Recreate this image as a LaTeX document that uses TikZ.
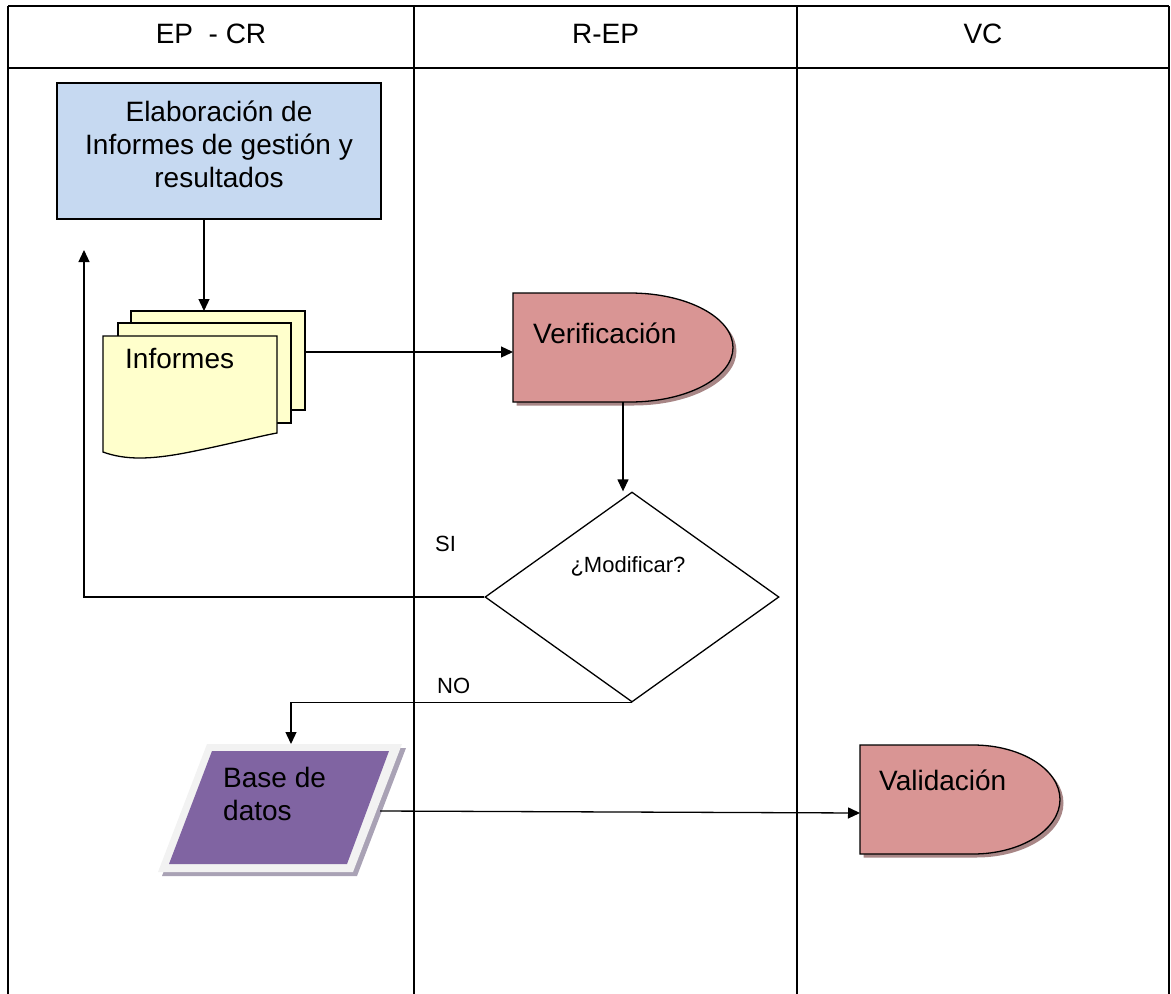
\documentclass[tikz,border=0pt]{standalone}
\usepackage{fontspec}
\setmainfont{Liberation Sans}
\usetikzlibrary{arrows.meta,shapes.geometric,shadows}

\definecolor{elabblue}{HTML}{C6D9F1}
\definecolor{docyellow}{HTML}{FFFFCC}
\definecolor{delaypink}{HTML}{D99594}
\definecolor{pinkshadow}{HTML}{A88686}
\definecolor{basepurple}{HTML}{8064A2}
\definecolor{baseframe}{HTML}{F2F2F2}
\definecolor{baseshadow}{HTML}{A9A2B5}

\begin{document}
\begin{tikzpicture}[x=1pt, y=-1pt,
        lane/.style={line width=2.6pt},
        flow/.style={line width=1.3pt, -{Triangle[length=12pt,width=11pt]}},
        outline/.style={draw=black, line width=1.3pt},
        zone/.style={inner sep=0pt, outer sep=0pt},
        txt/.style={font=\fontsize{28}{33}\selectfont, inner sep=0pt},
        smalltxt/.style={font=\fontsize{22}{26}\selectfont, inner sep=0pt},
        delayshape/.style={outline, fill=delaypink,
            drop shadow={shadow xshift=3.5pt, shadow yshift=-3.5pt, fill=pinkshadow, opacity=1}}]
        \useasboundingbox (0,0) rectangle (1171,994);

        % Lanes
        \draw[lane] (8,6) -- (1169,6);
        \draw[lane] (8,68) -- (1169,68);
        \foreach \x in {8,414,797,1169}
            \draw[lane] (\x,6) -- (\x,994);
        \node[txt, anchor=base] (lane-ep) at (211,43) {EP~ - CR};
        \node[txt, anchor=base] (lane-rep) at (605.5,43) {R-EP};
        \node[txt, anchor=base] (lane-vc) at (983,43) {VC};

        % Elaboracion (process box)
        \node[outline, fill=elabblue, zone, minimum width=324pt, minimum height=136pt] (elab) at (219,151) {};
        \node[txt, align=center, anchor=north] (elab-txt) at (219,101) {Elaboración de\\Informes de gestión y\\resultados};

        % Informes (document stack)
        \node[zone, minimum width=202pt, minimum height=147pt] (docs) at (204,384.5) {};
        \filldraw[outline, fill=docyellow] (131,311) rectangle (305,410);
        \filldraw[outline, fill=docyellow] (118,323) rectangle (291,423);
        \filldraw[outline, fill=docyellow] (103,336) -- (277,336) -- (277,433)
            .. controls (260,436) and (230,444) .. (190,452)
            .. controls (150,460) and (125,460) .. (103,452) -- cycle;
        \node[txt, anchor=base west] (docs-txt) at (125,368) {Informes};

        % Verificacion (delay)
        \node[zone, minimum width=220pt, minimum height=109pt] (verif) at (623,347.5) {};
        \draw[delayshape] (513,293) -- (630,293)
            .. controls (687,293) and (733,317.4) .. (733,347.5)
            .. controls (733,377.6) and (687,402) .. (630,402) -- (513,402) -- cycle;
        \node[txt, anchor=base west] (verif-txt) at (533,343) {Verificación};

        % Decision
        \node[draw, diamond, line width=1.3pt, inner sep=0pt, minimum width=294pt, minimum height=210pt] (modif) at (632,597) {};
        \node[smalltxt, anchor=base] (modif-txt) at (628,572) {¿Modificar?};
        \coordinate (ret) at (84,250);

        % Base de datos (data)
        \node[zone, minimum width=244pt, minimum height=128pt] (base) at (280,808) {};
        \fill[baseshadow] (211,748) -- (406,748) -- (357,876) -- (162,876) -- cycle;
        \fill[baseframe] (207,744) -- (402,744) -- (353,872) -- (158,872) -- cycle;
        \fill[basepurple] (212,751) -- (389,751) -- (347,864) -- (169,864) -- cycle;
        \node[txt, align=left, anchor=north west] (base-txt) at (223,767.5) {Base de\\datos};

        % Validacion (delay)
        \node[zone, minimum width=200pt, minimum height=109pt] (valid) at (960,799.5) {};
        \draw[delayshape] (860,745) -- (973,745)
            .. controls (1021,745) and (1060,769.4) .. (1060,799.5)
            .. controls (1060,829.6) and (1021,854) .. (973,854) -- (860,854) -- cycle;
        \node[txt, anchor=base west] (valid-txt) at (879,790) {Validación};

        % Connectors
        \draw[flow] (elab.south -| docs.north) -- (docs.north);
        \draw[flow] ([yshift=32.5pt]docs.east) -- ([yshift=-4.5pt]verif.west);
        \draw[flow] (verif.south) -- (verif.south |- modif.north);
        \draw[flow] (modif.west) -| (ret);
        \draw[flow] (modif.south) -| ([xshift=11pt]base.north);
        \draw[flow] ([shift={(-22,3)}]base.east) -- ([yshift=-13.5pt]valid.west);
        \node[smalltxt, anchor=base west] (si) at (435,551) {SI};
        \node[smalltxt, anchor=base west] (no) at (437,693) {NO};
\end{tikzpicture}
\end{document}
